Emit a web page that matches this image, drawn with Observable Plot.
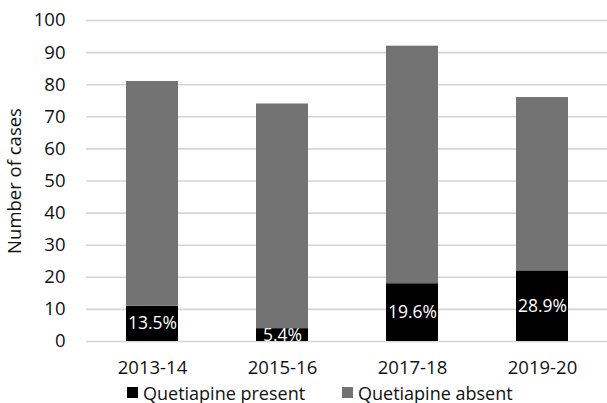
<!DOCTYPE html>
<html>
<head>
<meta charset="utf-8">
<script src="https://cdn.jsdelivr.net/npm/d3@7"></script>
<script src="https://cdn.jsdelivr.net/npm/@observablehq/plot@0.6"></script>
<style>
  html, body { margin: 0; padding: 0; background: #fff; }
  body { width: 607px; height: 403px; overflow: hidden; font-family: "Open Sans", sans-serif; }
  #legend { position: relative; height: 25px; font-size: 18px; color: #111; }
  .item { position: absolute; top: 2px; display: flex; align-items: center; height: 25px; white-space: nowrap; }
  .sw { width: 11px; height: 11px; margin-right: 5px; }
</style>
</head>
<body>
<div id="chart"></div>
<div id="legend"></div>
<script>
const years = ["2013-14", "2015-16", "2017-18", "2019-20"];
const present = [11, 4, 18, 22];
const absent = [70, 70, 74, 54];
const pctLabels = ["13.5%", "5.4%", "19.6%", "28.9%"];
const yTicks = [0, 10, 20, 30, 40, 50, 60, 70, 80, 90, 100];
const seriesNames = ["Quetiapine present", "Quetiapine absent"];
const seriesColors = ["#000000", "#737373"];

const rows = years.map((y, i) => ({year: y, present: present[i], absent: absent[i], pct: pctLabels[i]}));

const chart = Plot.plot({
  width: 607,
  height: 378,
  marginTop: 20,
  marginBottom: 37,
  marginLeft: 86,
  marginRight: 0,
  style: {fontFamily: "Open Sans, sans-serif", fontSize: "18.5px", color: "#111", background: "#fff"},
  x: {domain: years, paddingInner: 0.6, paddingOuter: 0.3, label: null, tickSize: 0, tickPadding: 19},
  y: {domain: [0, 100], ticks: yTicks, label: null, tickSize: 0, tickPadding: 21},
  color: {domain: seriesNames, range: seriesColors},
  marks: [
    Plot.ruleY(yTicks, {stroke: "#d4d4d4", strokeWidth: 1.6, insetRight: -5}),
    Plot.barY(rows, {x: "year", y: "present", fill: () => seriesNames[0]}),
    Plot.text(rows, {x: "year", y: d => d.present / 2, text: "pct", fill: "#fff", fontSize: 17.5}),
    Plot.barY(rows, {x: "year", y1: "present", y2: d => d.present + d.absent, fill: () => seriesNames[1]}),
    Plot.axisY({ticks: yTicks, tickSize: 0, tickPadding: 21, label: null}),
    Plot.axisX({tickSize: 0, tickPadding: 19, label: null}),
    Plot.text(["Number of cases"], {frameAnchor: "left", textAnchor: "middle", dx: -71, rotate: -90, fontSize: 18.5, fill: "#111"})
  ]
});
document.getElementById("chart").appendChild(chart);

const legend = document.getElementById("legend");
const positions = [127, 342];
seriesNames.forEach((name, i) => {
  const item = document.createElement("div");
  item.className = "item";
  item.style.left = positions[i] + "px";
  const sw = document.createElement("span");
  sw.className = "sw";
  sw.style.background = seriesColors[i];
  const t = document.createElement("span");
  t.textContent = name;
  item.appendChild(sw);
  item.appendChild(t);
  legend.appendChild(item);
});
</script>
</body>
</html>
